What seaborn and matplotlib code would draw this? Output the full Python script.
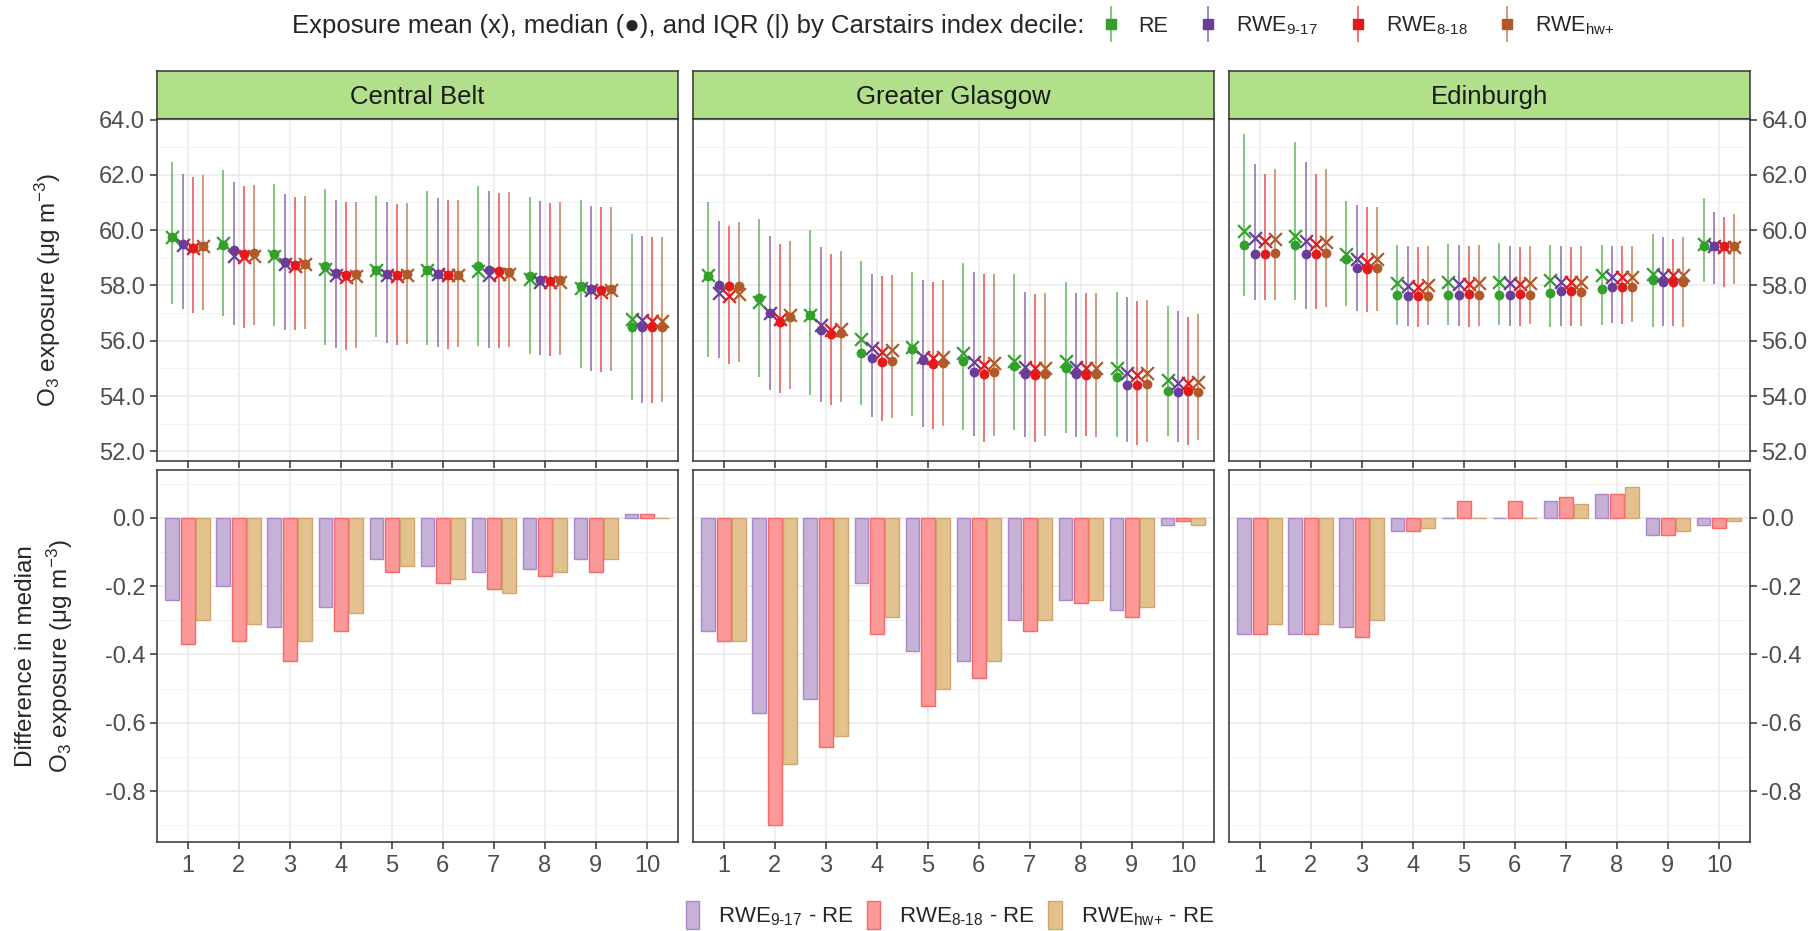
import numpy as np
import pandas as pd
import matplotlib
matplotlib.use("Agg")
import matplotlib.pyplot as plt
import seaborn as sns
from matplotlib.lines import Line2D
from matplotlib.patches import Patch
from matplotlib.ticker import MultipleLocator, FuncFormatter, FixedLocator
from matplotlib.legend_handler import HandlerTuple

# ---------------------------------------------------------------- data
regions = ["Central Belt", "Greater Glasgow", "Edinburgh"]
deciles = [str(d) for d in range(1, 11)]
series = ["RE", "RWE9-17", "RWE8-18", "RWEhw+"]
series_labels = ["RE", r"RWE$_{\text{9-17}}$", r"RWE$_{\text{8-18}}$", r"RWE$_{\text{hw+}}$"]
diff_labels = [r"RWE$_{\text{9-17}}$ - RE", r"RWE$_{\text{8-18}}$ - RE", r"RWE$_{\text{hw+}}$ - RE"]

# Central Belt: rows follow `series` order (RE, RWE9-17, RWE8-18, RWEhw+)
cb_q1 = [[57.32, 56.90, 56.54, 55.84, 56.12, 55.84, 55.80, 55.52, 55.02, 53.84],
         [57.14, 56.57, 56.40, 55.73, 55.90, 55.78, 55.72, 55.48, 54.92, 53.74],
         [57.00, 56.45, 56.37, 55.68, 55.83, 55.71, 55.72, 55.46, 54.87, 53.74],
         [57.10, 56.57, 56.43, 55.73, 55.89, 55.77, 55.77, 55.48, 54.92, 53.79]]
cb_q3 = [[62.46, 62.16, 61.67, 61.48, 61.24, 61.40, 61.60, 61.19, 61.08, 59.86],
         [62.02, 61.73, 61.31, 61.10, 61.02, 61.18, 61.42, 61.06, 60.87, 59.79],
         [61.92, 61.60, 61.19, 61.02, 60.95, 61.10, 61.36, 60.99, 60.83, 59.76],
         [61.98, 61.65, 61.24, 61.02, 60.98, 61.10, 61.38, 61.00, 60.84, 59.76]]
cb_mean = [[59.76, 59.52, 59.05, 58.60, 58.54, 58.54, 58.52, 58.24, 57.92, 56.79],
           [59.48, 59.08, 58.78, 58.36, 58.38, 58.40, 58.36, 58.12, 57.82, 56.74],
           [59.36, 59.02, 58.72, 58.30, 58.34, 58.36, 58.40, 58.12, 57.78, 56.72],
           [59.42, 59.08, 58.76, 58.34, 58.37, 58.38, 58.42, 58.12, 57.84, 56.72]]
cb_re_median = [59.74, 59.48, 59.15, 58.70, 58.54, 58.56, 58.72, 58.34, 57.98, 56.50]
# Difference in median vs RE: rows RWE9-17, RWE8-18, RWEhw+
cb_diff = [[-0.24, -0.20, -0.32, -0.26, -0.12, -0.14, -0.16, -0.15, -0.12, 0.01],
           [-0.37, -0.36, -0.42, -0.33, -0.16, -0.19, -0.21, -0.17, -0.16, 0.01],
           [-0.30, -0.31, -0.36, -0.28, -0.14, -0.18, -0.22, -0.16, -0.12, 0.00]]

# Greater Glasgow
gg_q1 = [[55.41, 54.69, 54.04, 53.67, 53.26, 52.78, 52.76, 52.68, 52.52, 52.54],
         [55.38, 54.22, 53.79, 53.24, 52.88, 52.54, 52.50, 52.52, 52.32, 52.34],
         [55.16, 54.11, 53.69, 53.08, 52.80, 52.32, 52.32, 52.54, 52.22, 52.22],
         [55.22, 54.24, 53.78, 53.20, 52.92, 52.56, 52.54, 52.52, 52.35, 52.40]]
gg_q3 = [[61.02, 60.39, 60.00, 58.88, 58.49, 58.82, 58.41, 58.12, 57.78, 57.27],
         [60.32, 59.79, 59.40, 58.41, 58.20, 58.50, 57.78, 57.74, 57.58, 57.08],
         [60.16, 59.50, 59.14, 58.35, 58.14, 58.41, 57.70, 57.74, 57.42, 56.84],
         [60.28, 59.60, 59.26, 58.36, 58.20, 58.41, 57.72, 57.72, 57.46, 56.98]]
gg_mean = [[58.36, 57.40, 56.92, 56.08, 55.78, 55.56, 55.28, 55.28, 55.00, 54.58],
           [57.74, 57.00, 56.56, 55.72, 55.40, 55.22, 55.06, 55.06, 54.82, 54.46],
           [57.62, 56.80, 56.38, 55.60, 55.36, 55.12, 55.00, 55.00, 54.76, 54.46],
           [57.70, 56.92, 56.44, 55.68, 55.40, 55.18, 55.02, 55.02, 54.82, 54.52]]
gg_re_median = [58.35, 57.56, 56.92, 55.56, 55.70, 55.28, 55.10, 55.02, 54.68, 54.18]
gg_diff = [[-0.33, -0.57, -0.53, -0.19, -0.39, -0.42, -0.30, -0.24, -0.27, -0.02],
           [-0.36, -0.90, -0.67, -0.34, -0.55, -0.47, -0.33, -0.25, -0.29, -0.01],
           [-0.36, -0.72, -0.64, -0.29, -0.50, -0.42, -0.30, -0.24, -0.26, -0.02]]

# Edinburgh
ed_q1 = [[57.60, 57.46, 57.24, 56.56, 56.56, 56.56, 56.50, 56.56, 56.50, 58.12],
         [57.46, 57.16, 57.08, 56.54, 56.54, 56.54, 56.54, 56.64, 56.54, 58.04],
         [57.46, 57.16, 57.04, 56.50, 56.50, 56.52, 56.52, 56.62, 56.54, 57.94],
         [57.46, 57.22, 57.08, 56.56, 56.54, 56.60, 56.54, 56.66, 56.50, 58.04]]
ed_q3 = [[63.46, 63.20, 61.04, 59.48, 59.50, 59.52, 59.48, 59.48, 59.86, 61.16],
         [62.40, 62.46, 60.90, 59.44, 59.45, 59.43, 59.44, 59.44, 59.76, 60.64],
         [62.04, 62.04, 60.82, 59.40, 59.43, 59.38, 59.40, 59.42, 59.68, 60.48],
         [62.21, 62.20, 60.84, 59.43, 59.46, 59.42, 59.42, 59.43, 59.76, 60.58]]
ed_mean = [[59.96, 59.80, 59.14, 58.08, 58.12, 58.12, 58.18, 58.36, 58.42, 59.50],
           [59.72, 59.62, 58.96, 57.98, 58.06, 58.08, 58.12, 58.30, 58.38, 59.42],
           [59.62, 59.50, 58.84, 57.94, 58.04, 58.06, 58.12, 58.30, 58.36, 59.38],
           [59.68, 59.56, 58.96, 58.00, 58.08, 58.08, 58.12, 58.32, 58.38, 59.40]]
ed_re_median = [59.48, 59.48, 58.94, 57.64, 57.64, 57.64, 57.74, 57.86, 58.18, 59.44]
ed_diff = [[-0.34, -0.34, -0.32, -0.04, 0.00, 0.00, 0.05, 0.07, -0.05, -0.02],
           [-0.34, -0.34, -0.35, -0.04, 0.05, 0.05, 0.06, 0.07, -0.05, -0.03],
           [-0.31, -0.31, -0.30, -0.03, 0.00, 0.00, 0.04, 0.09, -0.04, -0.01]]

panel_data = {
    "Central Belt": (cb_q1, cb_q3, cb_mean, cb_re_median, cb_diff),
    "Greater Glasgow": (gg_q1, gg_q3, gg_mean, gg_re_median, gg_diff),
    "Edinburgh": (ed_q1, ed_q3, ed_mean, ed_re_median, ed_diff),
}

# ---------------------------------------------------------------- styling
line_colors = ["#33A02C", "#6A3D9A", "#E31A1C", "#B15928"]
bar_fill = ["#C8B1D7", "#FC9898", "#E3C290"]
bar_edge = ["#A888CB", "#F26A6A", "#D2A56E"]
strip_color = "#B2DF8A"
frame_color = "#333333"
tick_text = "#4D4D4D"
dodge = np.array([-0.3, -0.1, 0.1, 0.3])

sns.set_theme(style="white")
plt.rcParams["font.family"] = ["Liberation Sans", "DejaVu Sans"]
plt.rcParams["mathtext.fontset"] = "custom"
plt.rcParams["mathtext.rm"] = "Liberation Sans"
plt.rcParams["mathtext.it"] = "Liberation Sans:italic"
plt.rcParams["mathtext.bf"] = "Liberation Sans:bold"

FS_TICK = 17
FS_STRIP = 18.5
FS_TITLE = 17.5
FS_LEG_TITLE = 18.5
FS_LEG_TOP = 15.5
FS_LEG_BOT = 16

W_PX, H_PX = 1814, 931
fig = plt.figure(figsize=(W_PX / 100, H_PX / 100), dpi=100)

lefts = [157, 693, 1229]
pw = 520.5
strip_top, top_top, top_bot, bot_top, bot_bot = 71, 119, 460.7, 470, 842.3


def fx(px):
    return px / W_PX


def fy(py):
    return 1 - py / H_PX


def frame(ax):
    for sp in ax.spines.values():
        sp.set_visible(True)
        sp.set_color(frame_color)
        sp.set_linewidth(1.1)


def grid(ax):
    ax.set_axisbelow(True)
    ax.grid(which="major", color="#EBEBEB", linewidth=1.1)
    ax.grid(which="minor", axis="y", color="#F3F3F3", linewidth=0.7)
    ax.tick_params(which="major", length=5, width=1.1, color=frame_color,
                   labelsize=FS_TICK, labelcolor=tick_text)
    ax.tick_params(which="minor", length=0)


fmt1 = FuncFormatter(lambda v, p: f"{v:.1f}".replace("\u2212", "-"))

for i, region in enumerate(regions):
    q1, q3, mean, re_med, diff = panel_data[region]
    q1, q3, mean = np.array(q1), np.array(q3), np.array(mean)
    diff = np.array(diff)
    medians = np.vstack([re_med, np.array(re_med) + diff])

    x0, w = fx(lefts[i]), pw / W_PX
    ax_s = fig.add_axes([x0, fy(top_top), w, (top_top - strip_top) / H_PX])
    ax_t = fig.add_axes([x0, fy(top_bot), w, (top_bot - top_top) / H_PX])
    ax_b = fig.add_axes([x0, fy(bot_bot), w, (bot_bot - bot_top) / H_PX])

    # strip header
    ax_s.set_facecolor(strip_color)
    ax_s.set_xticks([])
    ax_s.set_yticks([])
    frame(ax_s)
    ax_s.text(0.5, 0.45, region, ha="center", va="center", fontsize=FS_STRIP,
              color="#1A1A1A", transform=ax_s.transAxes)

    # top: IQR lines, medians and means per decile and series
    pos = np.arange(len(deciles))
    rows = []
    for s, name in enumerate(series):
        for d in range(len(deciles)):
            rows.append({"series": name, "x": pos[d] + dodge[s],
                         "q1": q1[s, d], "q3": q3[s, d],
                         "median": medians[s, d], "mean": mean[s, d]})
    df_top = pd.DataFrame(rows)
    for s, name in enumerate(series):
        sub = df_top[df_top.series == name]
        ax_t.vlines(sub["x"], sub["q1"], sub["q3"], color=line_colors[s],
                    alpha=0.7, linewidth=1.2, zorder=2)
    for s, name in enumerate(series):
        sub = df_top[df_top.series == name]
        sns.scatterplot(data=sub, x="x", y="median", color=line_colors[s],
                        marker="o", s=50, linewidth=0, ax=ax_t, legend=False,
                        zorder=3)
        sns.scatterplot(data=sub, x="x", y="mean", color=line_colors[s],
                        marker="x", s=85, linewidth=1.6, ax=ax_t, legend=False,
                        zorder=3)
    ax_t.set_xlim(-0.6, len(deciles) - 0.4)
    ax_t.set_ylim(51.66, 64.02)
    ax_t.xaxis.set_major_locator(FixedLocator(pos))
    ax_t.set_xticklabels([])
    ax_t.yaxis.set_major_locator(MultipleLocator(2))
    ax_t.yaxis.set_minor_locator(MultipleLocator(1))
    ax_t.yaxis.set_major_formatter(fmt1)
    ax_t.set_xlabel("")
    ax_t.set_ylabel("")
    frame(ax_t)
    grid(ax_t)

    # bottom: difference in median vs RE
    df_b = pd.DataFrame({
        "decile": np.tile(deciles, 3),
        "comparison": np.repeat(diff_labels, len(deciles)),
        "diff": diff.ravel(),
    })
    sns.barplot(data=df_b, x="decile", y="diff", hue="comparison",
                order=deciles, hue_order=diff_labels,
                palette=dict(zip(diff_labels, bar_fill)), saturation=1,
                errorbar=None, width=0.9, gap=0.1, linewidth=1.0,
                legend=False, ax=ax_b, zorder=2)
    for c, cont in enumerate(ax_b.containers):
        for patch in cont:
            patch.set_edgecolor(bar_edge[c])
            patch.set_linewidth(1.0)
    ax_b.set_xlim(-0.6, len(deciles) - 0.4)
    ax_b.set_ylim(-0.9495, 0.1395)
    ax_b.yaxis.set_major_locator(MultipleLocator(0.2))
    ax_b.yaxis.set_minor_locator(MultipleLocator(0.1))
    ax_b.yaxis.set_major_formatter(fmt1)
    ax_b.set_xlabel("")
    ax_b.set_ylabel("")
    frame(ax_b)
    grid(ax_b)
    ax_b.xaxis.grid(True, which="major", color="#EBEBEB", linewidth=1.1)

    for ax in (ax_t, ax_b):
        if i == 0:
            ax.tick_params(axis="y", left=True, labelleft=True, right=False,
                           labelright=False)
        elif i == len(regions) - 1:
            ax.tick_params(axis="y", left=False, labelleft=False, right=True,
                           labelright=True)
        else:
            ax.tick_params(axis="y", left=False, labelleft=False)
        ax.tick_params(axis="x", bottom=True)
    ax_b.tick_params(axis="x", pad=4)

    if i == 0:
        ax_t.set_ylabel(r"O$_3$ exposure (μg m$^{-3}$)", fontsize=FS_TITLE)
        ax_t.yaxis.set_label_coords((48 - lefts[0]) / pw, 0.5)
        ax_b.set_ylabel("Difference in median\n" + r"O$_3$ exposure (μg m$^{-3}$)",
                        fontsize=FS_TITLE, linespacing=1.3)
        ax_b.yaxis.set_label_coords((45 - lefts[0]) / pw, 0.5)
        ax_t.yaxis.label.set_va("center")
        ax_b.yaxis.label.set_va("center")

# ---------------------------------------------------------------- legends
fig.text(fx(1084), fy(26),
         "Exposure mean (x), median (\u25CF), and IQR (|) by Carstairs index decile:",
         ha="right", va="center", fontsize=FS_LEG_TITLE)
handles = []
for c in line_colors:
    handles.append((Line2D([], [], color=c, alpha=0.7, marker="|", markersize=26,
                           markeredgewidth=1.2, linestyle="None"),
                    Line2D([], [], color=c, marker="s", markersize=7.5,
                           linestyle="None")))
fig.legend(handles, series_labels, loc="center left",
           bbox_to_anchor=(fx(1100), fy(26)), ncol=4, frameon=False,
           fontsize=FS_LEG_TOP, handlelength=1.0, handletextpad=0.8,
           columnspacing=1.35, borderpad=0, borderaxespad=0,
           handler_map={tuple: HandlerTuple(ndivide=1)})

bar_handles = [Patch(facecolor=f, edgecolor=e, linewidth=1.0)
               for f, e in zip(bar_fill, bar_edge)]
fig.legend(bar_handles, diff_labels, loc="center",
           bbox_to_anchor=(fx(950), fy(915)), ncol=3, frameon=False,
           fontsize=FS_LEG_BOT, handlelength=0.6, handleheight=1.5,
           handletextpad=0.85, columnspacing=0.6, borderpad=0,
           borderaxespad=0)

fig.savefig("out.png", dpi=100, facecolor="white")
